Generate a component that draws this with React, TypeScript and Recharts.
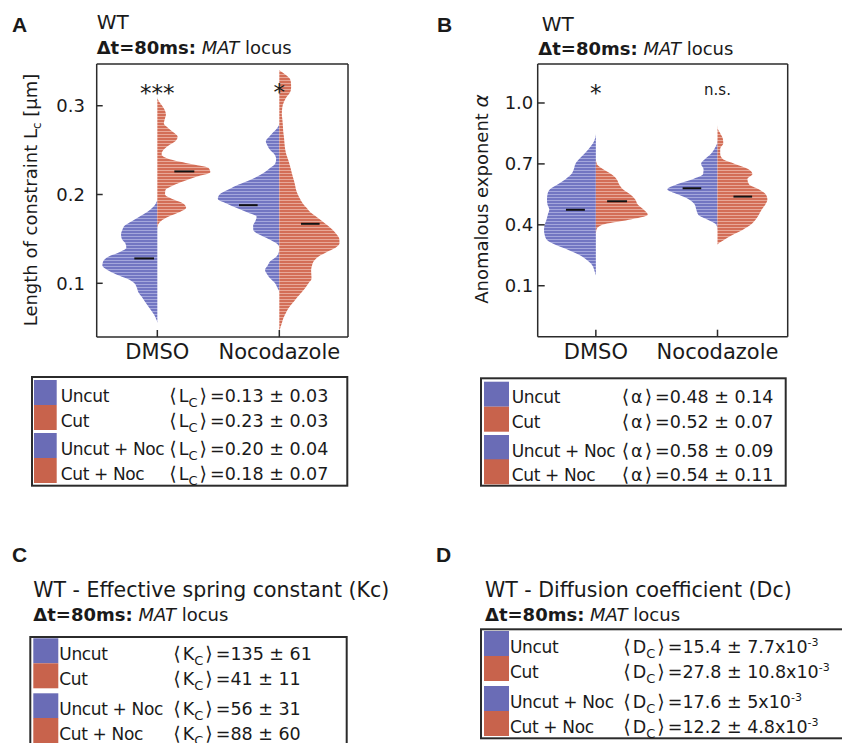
import React from "react";
import { Area, ComposedChart, ReferenceDot, ReferenceLine, XAxis, YAxis } from "recharts";

const FONT = "'DejaVu Sans', Verdana, sans-serif";
const LETTER_FONT = "'Liberation Sans', Arial, sans-serif";
const INK = "#1a1a1a";
const AXIS = "#2b2b2b";
const BLUE = "#7276c2";
const BLUE_LIGHT = "#a4a7dc";
const RED = "#d36e57";
const RED_LIGHT = "#e8a898";
const BLUE_SWATCH = "#6a6cb6";
const RED_SWATCH = "#c8634c";

// violin half-widths are in px-like density units; one category step = 122 of them
const CAT_STEP = 122;

const CATEGORIES = ["DMSO", "Nocodazole"];
const GROUPS = ["Uncut", "Cut", "Uncut + Noc", "Cut + Noc"];
const SERIES_KEYS = ["dmsoUncut", "dmsoCut", "nocUncut", "nocCut"];

// Panel A: length of constraint Lc (um), density sampled every 0.005 um from 0.045
const LC_Y = Array.from({ length: 60 }, (_, i) => +(0.045 + i * 0.005).toFixed(3));
const LC_DMSO_UNCUT = [
  0, 0, 0, 1.3, 3.5, 6.5, 9.7, 12.8, 15.8, 19,
  20.5, 23, 30, 41, 50, 55, 54, 49, 38, 31,
  32, 35.5, 36.3, 35, 32.5, 25.5, 18, 10.5, 5, 1.5,
  0, 0, 0, 0, 0, 0, 0, 0, 0, 0,
  0, 0, 0, 0, 0, 0, 0, 0, 0, 0,
  0, 0, 0, 0, 0, 0, 0, 0, 0, 0,
];
const LC_DMSO_CUT = [
  0, 0, 0, 0, 0, 0, 0, 0, 0, 0,
  0, 0, 0, 0, 0, 0, 0, 0, 0, 0,
  0, 0, 0, 0, 0.5, 3.5, 11, 22, 28.8, 25.8,
  15, 7.7, 8.1, 15.3, 26.3, 39, 53, 51, 31, 11.5,
  4.3, 6, 11, 18, 20.3, 16, 10.8, 6.5, 7.5, 8.6,
  7.5, 4.8, 1.5, 0, 0, 0, 0, 0, 0, 0,
];
const LC_NOC_UNCUT = [
  0, 0, 0, 0, 0, 0, 0, 0, 0, 0,
  2, 4.3, 8.8, 12.1, 14.3, 11.6, 8.9, 3, 0.5, 0,
  3, 10.9, 20.2, 26, 26.2, 24, 22.7, 32.3, 43.1, 52.8,
  61.5, 59.7, 51.9, 43.3, 32.2, 22.5, 14.7, 9, 4, 3.2,
  4.8, 9.2, 11.8, 13.5, 10.1, 6.1, 2, 0, 0, 0,
  0, 0, 0, 0, 0, 0, 0, 0, 0, 0,
];
const LC_NOC_CUT = [
  0, 1, 2.5, 3.8, 5.9, 8.1, 11.2, 15, 18.6, 22.4,
  26.1, 29.2, 32.2, 32, 31.8, 32.7, 34.6, 39, 47.1, 56.2,
  60.2, 60, 57.4, 53.5, 48.4, 43, 37, 31, 27.2, 23.5,
  20.8, 18.5, 16.8, 15.9, 14.8, 13.5, 12.3, 11.2, 10, 8.6,
  7, 6, 5.4, 5, 4.6, 4, 3.7, 3.4, 3, 2.5,
  2.7, 3.3, 4.9, 7.4, 10.7, 11.8, 11.7, 10.7, 6.2, 0,
];
const LC_MEANS = [0.128, 0.226, 0.188, 0.167];
const LC_TICKS = [0.1, 0.2, 0.3];
const LC_SIG = ["***", "*"];

// Panel B: anomalous exponent alpha, density sampled every 0.025 from 0.15
const ALPHA_Y = Array.from({ length: 31 }, (_, i) => +(0.15 + i * 0.025).toFixed(3));
const ALPHA_DMSO_UNCUT = [
  0, 1.5, 3.5, 8.7, 16, 27, 40, 49, 51.3, 52,
  51.3, 49.5, 48.2, 46.7, 48.5, 49, 48.5, 46, 38, 30.4,
  24.5, 22, 20.5, 16.5, 11.5, 7, 3, 0.8, 0, 0, 0,
];
const ALPHA_DMSO_CUT = [
  0, 0, 0, 0, 0, 0, 0, 0, 0, 0.5,
  6.5, 33, 52, 47.8, 42, 39.5, 34.3, 27.1, 23.3, 20.9,
  15.3, 7, 1, 0, 0, 0, 0, 0, 0, 0, 0,
];
const ALPHA_NOC_UNCUT = [
  0, 0, 0, 0, 0, 0, 0, 0, 0, 0,
  1.2, 9.6, 19.3, 21.3, 22.9, 28.6, 40, 50.3, 40.6, 24.9,
  14.5, 14, 16.5, 12.2, 6.5, 3, 0.5, 0, 0, 0, 0,
];
const ALPHA_NOC_CUT = [
  0, 0, 0, 0, 0, 0, 0, 6.4, 14.9, 25.1,
  33.3, 38.1, 41.5, 44.4, 48, 50, 48.3, 41.4, 31.6, 30,
  35, 30.6, 17.5, 5, 2.7, 2.7, 5.8, 5.3, 2.8, 0.2, 0,
];
const ALPHA_MEANS = [0.474, 0.516, 0.58, 0.539];
const ALPHA_TICKS = [0.1, 0.4, 0.7, 1.0];
const ALPHA_SIG = ["*", "n.s."];

// legend statistics
const LC_MEAN = ["0.13", "0.23", "0.20", "0.18"];
const LC_SD = ["0.03", "0.03", "0.04", "0.07"];
const ALPHA_MEAN = ["0.48", "0.52", "0.58", "0.54"];
const ALPHA_SD = ["0.14", "0.07", "0.09", "0.11"];
const KC_MEAN = ["135", "41", "56", "88"];
const KC_SD = ["61", "11", "31", "60"];
const DC_MEAN = ["15.4", "27.8", "17.6", "12.2"];
const DC_SD = ["7.7", "10.8", "5", "4.8"];

function buildRows(ys: number[], cols: number[][]) {
  return ys.map((y, i) => ({
    y,
    dmsoUncut: [1, 1 - cols[0][i] / CAT_STEP],
    dmsoCut: [1, 1 + cols[1][i] / CAT_STEP],
    nocUncut: [2, 2 - cols[2][i] / CAT_STEP],
    nocCut: [2, 2 + cols[3][i] / CAT_STEP],
  }));
}

const LC_ROWS = buildRows(LC_Y, [LC_DMSO_UNCUT, LC_DMSO_CUT, LC_NOC_UNCUT, LC_NOC_CUT]);
const ALPHA_ROWS = buildRows(ALPHA_Y, [ALPHA_DMSO_UNCUT, ALPHA_DMSO_CUT, ALPHA_NOC_UNCUT, ALPHA_NOC_CUT]);

type Span = [number, number];

interface PanelProps {
  id: string;
  width: number;
  margin: { top: number; right: number; bottom: number; left: number };
  rows: any[];
  xDomain: [number, number];
  yDomain: [number, number];
  yTicks: number[];
  leftTick: number;
  rightTick: number;
  labelGap: number;
  means: number[];
  spans: Span[];
  sig: string[];
  sigY: number[];
  sigSize: number[];
}

function ViolinPanel(p: PanelProps) {
  const line = { stroke: AXIS, strokeWidth: 1.5 };
  return (
    <ComposedChart width={p.width} height={380} data={p.rows} layout="vertical" margin={p.margin}>
      <defs>
        <pattern id={`${p.id}-blue`} patternUnits="userSpaceOnUse" width={8} height={3}>
          <rect width={8} height={3} fill={BLUE} />
          <rect y={2} width={8} height={1} fill={BLUE_LIGHT} />
        </pattern>
        <pattern id={`${p.id}-red`} patternUnits="userSpaceOnUse" width={8} height={3}>
          <rect width={8} height={3} fill={RED} />
          <rect y={2} width={8} height={1} fill={RED_LIGHT} />
        </pattern>
      </defs>
      <XAxis
        xAxisId="b"
        type="number"
        domain={p.xDomain}
        allowDataOverflow
        ticks={[1, 2]}
        interval={0}
        tickFormatter={(v: number) => CATEGORIES[v - 1]}
        height={30}
        tickSize={-7}
        tickMargin={14}
        axisLine={line}
        tickLine={line}
        tick={{ fontSize: 21, fill: INK, fontFamily: FONT }}
      />
      <XAxis
        xAxisId="t"
        orientation="top"
        type="number"
        domain={p.xDomain}
        allowDataOverflow
        ticks={[1, 2]}
        interval={0}
        height={10}
        tickSize={-7}
        tick={false}
        axisLine={line}
        tickLine={line}
      />
      <YAxis
        yAxisId="l"
        type="number"
        dataKey="y"
        reversed
        domain={p.yDomain}
        allowDataOverflow
        ticks={p.yTicks}
        interval={0}
        tickFormatter={(v: number) => v.toFixed(1)}
        width={60}
        tickSize={-p.leftTick}
        tickMargin={p.labelGap}
        axisLine={line}
        tickLine={line}
        tick={{ fontSize: 18, fill: INK, fontFamily: FONT }}
      />
      <YAxis
        yAxisId="r"
        orientation="right"
        type="number"
        reversed
        domain={p.yDomain}
        allowDataOverflow
        ticks={p.yTicks}
        interval={0}
        width={20}
        tickSize={-p.rightTick}
        tick={false}
        axisLine={line}
        tickLine={line}
      />
      {SERIES_KEYS.map((k, i) => (
        <Area
          key={k}
          xAxisId="b"
          yAxisId="l"
          dataKey={k}
          type="monotone"
          stroke="none"
          fill={`url(#${p.id}-${i % 2 ? "red" : "blue"})`}
          fillOpacity={1}
          dot={false}
          activeDot={false}
          isAnimationActive={false}
        />
      ))}
      {p.means.map((m, i) => {
        const c = i < 2 ? 1 : 2;
        const [a, b] = p.spans[i];
        return (
          <ReferenceLine
            key={`m${i}`}
            xAxisId="b"
            yAxisId="l"
            segment={[
              { x: c + a / CAT_STEP, y: m },
              { x: c + b / CAT_STEP, y: m },
            ]}
            stroke="#111"
            strokeWidth={2}
          />
        );
      })}
      {p.sig.map((s, i) => (
        <ReferenceDot
          key={`s${i}`}
          xAxisId="b"
          yAxisId="l"
          x={i + 1}
          y={p.sigY[i]}
          r={0}
          shape={(d: any) => (
            <text x={d.cx} y={d.cy} textAnchor="middle" fontSize={p.sigSize[i]} fontFamily={FONT} fill={INK}>
              {s}
            </text>
          )}
        />
      ))}
    </ComposedChart>
  );
}

interface LegendProps {
  x: number;
  y: number;
  w: number;
  h: number;
  swatchX: number;
  swatchW: number;
  rowTops: number[];
  labelX: number;
  statX: number;
  symbol: string;
  subscript: boolean;
  means: string[];
  sds: string[];
  exponent?: string;
}

function StatLegend(p: LegendProps) {
  return (
    <g>
      <rect x={p.x + 1} y={p.y + 1} width={p.w - 2} height={p.h - 2} fill="#fff" stroke={AXIS} strokeWidth={2} />
      {GROUPS.map((g, i) => {
        const base = p.rowTops[i] + 21.5;
        return (
          <g key={g}>
            <rect x={p.swatchX} y={p.rowTops[i]} width={p.swatchW} height={25} fill={i % 2 ? RED_SWATCH : BLUE_SWATCH} />
            <text x={p.labelX} y={base} fontSize={17} letterSpacing={-0.35}>
              {g}
            </text>
            <text x={p.statX} y={base} fontSize={17.5}>
              <tspan fontSize={19}>⟨</tspan>
              <tspan dx={2}>{p.symbol}</tspan>
              {p.subscript ? (
                <tspan dy={5} fontSize={13}>
                  C
                </tspan>
              ) : null}
              <tspan dy={p.subscript ? -5 : 0} dx={2} fontSize={19}>
                ⟩
              </tspan>
              <tspan dx={3}>
                ={p.means[i]} ± {p.sds[i]}
                {p.exponent ? "x10" : ""}
              </tspan>
              {p.exponent ? (
                <tspan dy={-7} fontSize={11}>
                  {p.exponent}
                </tspan>
              ) : null}
            </text>
          </g>
        );
      })}
    </g>
  );
}

function DeltaLine({ x, y }: { x: number; y: number }) {
  return (
    <text x={x} y={y} fontSize={18}>
      <tspan fontWeight="bold">Δt=80ms:</tspan> <tspan fontStyle="italic">MAT</tspan> locus
    </text>
  );
}

export default function App() {
  return (
    <div
      style={{
        position: "absolute",
        left: 0,
        top: 0,
        width: 842,
        height: 743,
        background: "#fff",
        overflow: "hidden",
      }}
    >
      <div style={{ position: "absolute", left: 0, top: 0 }}>
        <ViolinPanel
          id="lc"
          width={420}
          margin={{ top: 54, right: 52, bottom: 13, left: 36.7 }}
          rows={LC_ROWS}
          xDomain={[0.503, 2.563]}
          yDomain={[0.0395, 0.347]}
          yTicks={LC_TICKS}
          leftTick={6}
          rightTick={10}
          labelGap={17.7}
          means={LC_MEANS}
          spans={[
            [-23, -3.3],
            [17, 37],
            [-40.3, -21.7],
            [21.7, 40.3],
          ]}
          sig={LC_SIG}
          sigY={[0.3055, 0.3065]}
          sigSize={[23, 23]}
        />
      </div>
      <div style={{ position: "absolute", left: 420, top: 0 }}>
        <ViolinPanel
          id="alpha"
          width={422}
          margin={{ top: 54, right: 34.3, bottom: 13.3, left: 57.7 }}
          rows={ALPHA_ROWS}
          xDomain={[0.522, 2.577]}
          yDomain={[-0.151, 1.192]}
          yTicks={ALPHA_TICKS}
          leftTick={7}
          rightTick={8}
          labelGap={11.4}
          means={ALPHA_MEANS}
          spans={[
            [-30, -11],
            [11.3, 31.3],
            [-35, -16.3],
            [16, 34.7],
          ]}
          sig={ALPHA_SIG}
          sigY={[1.011, 1.039]}
          sigSize={[23, 15]}
        />
      </div>
      <svg
        width={842}
        height={743}
        style={{ position: "absolute", left: 0, top: 0, pointerEvents: "none" }}
        fontFamily={FONT}
        fill={INK}
      >
        <g fontFamily={LETTER_FONT} fontWeight="bold" fontSize={21}>
          <text x={12} y={31.5}>A</text>
          <text x={437} y={31.5}>B</text>
          <text x={12} y={562}>C</text>
          <text x={436} y={562}>D</text>
        </g>

        <text x={96.7} y={29.3} fontSize={20}>WT</text>
        <DeltaLine x={96.7} y={54.3} />
        <text x={541.7} y={30.7} fontSize={20}>WT</text>
        <DeltaLine x={538.3} y={54.7} />

        <text transform="translate(36.5,200) rotate(-90)" textAnchor="middle" fontSize={18}>
          Length of constraint L<tspan dy={4} fontSize={12}>c</tspan>
          <tspan dy={-4}> [μm]</tspan>
        </text>
        <text transform="translate(488,199) rotate(-90)" textAnchor="middle" fontSize={18}>
          Anomalous exponent <tspan fontSize={20} fontStyle="italic">α</tspan>
        </text>

        <StatLegend
          x={31}
          y={376}
          w={317.3}
          h={110.7}
          swatchX={34}
          swatchW={22.7}
          rowTops={[380, 405, 433, 458]}
          labelX={60.7}
          statX={169.3}
          symbol="L"
          subscript
          means={LC_MEAN}
          sds={LC_SD}
        />
        <StatLegend
          x={480}
          y={377.3}
          w={306.7}
          h={109.4}
          swatchX={484}
          swatchW={25}
          rowTops={[381.7, 406.7, 435, 459.3]}
          labelX={511.7}
          statX={621.7}
          symbol="α"
          subscript={false}
          means={ALPHA_MEAN}
          sds={ALPHA_SD}
        />

        <text x={33.3} y={596.7} fontSize={20.5}>WT - Effective spring constant (Kc)</text>
        <DeltaLine x={33.3} y={620.7} />
        <StatLegend
          x={29.3}
          y={636}
          w={318.4}
          h={130}
          swatchX={33.3}
          swatchW={25}
          rowTops={[638.3, 663.3, 693.3, 718]}
          labelX={59.3}
          statX={173.3}
          symbol="K"
          subscript
          means={KC_MEAN}
          sds={KC_SD}
        />

        <text x={485} y={596.7} fontSize={20.5}>WT - Diffusion coefficient (Dc)</text>
        <DeltaLine x={485} y={620.7} />
        <StatLegend
          x={480}
          y={628.3}
          w={370}
          h={111}
          swatchX={484}
          swatchW={25}
          rowTops={[631, 656, 686, 711]}
          labelX={510}
          statX={623.3}
          symbol="D"
          subscript
          means={DC_MEAN}
          sds={DC_SD}
          exponent="-3"
        />
      </svg>
    </div>
  );
}
